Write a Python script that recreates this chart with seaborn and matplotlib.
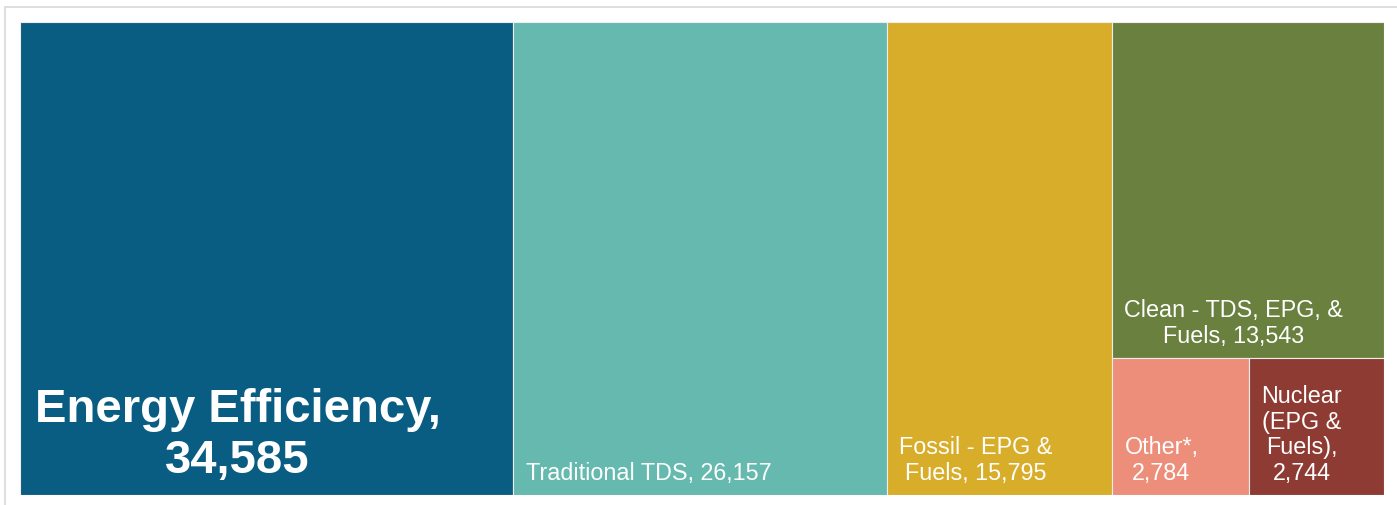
import matplotlib.pyplot as plt
import seaborn as sns
from matplotlib.patches import Rectangle
from matplotlib.lines import Line2D

sns.set_theme(style="white")
plt.rcParams['font.family'] = ['Liberation Sans', 'DejaVu Sans']

# treemap data (jobs by category)
categories = ["Energy Efficiency", "Traditional TDS", "Fossil - EPG &\nFuels",
              "Clean - TDS, EPG, &\nFuels", "Other*,\n", "Nuclear\n(EPG &\nFuels),\n"]
values = [34585, 26157, 15795, 13543, 2784, 2744]
colors = ["#0a5d82", "#65b9ae", "#d8ad2a", "#6a803e", "#ec8e7a", "#8e3b33"]


def label_for(i):
    v = f"{values[i]:,}"
    if i == 0:
        return f"{categories[0]},\n{v}"
    if i in (1, 2, 3):
        return f"{categories[i]}, {v}"
    return f"{categories[i]}{v}"


# slice-and-dice layout: first three are full-height columns,
# last column stacks Clean on top of (Other | Nuclear)
total = sum(values)
rects = []
x = 0
for v in values[:3]:
    rects.append((x, 0.0, v, 1.0))
    x += v
col_w = sum(values[3:])
top_h = values[3] / col_w
rects.append((x, 1 - top_h, col_w, top_h))
bottom_total = values[4] + values[5]
xo = x
for v in values[4:]:
    w = col_w * v / bottom_total
    rects.append((xo, 0.0, w, 1 - top_h))
    xo += w

fig = plt.figure(figsize=(13.97, 5.06), dpi=100)
ax = fig.add_axes([20 / 1397, 10 / 506, 1364 / 1397, 473 / 506])
ax.set_xlim(0, total)
ax.set_ylim(0, 1)
ax.axis("off")

for i, (rx, ry, rw, rh) in enumerate(rects):
    ax.add_patch(Rectangle((rx, ry), rw, rh, facecolor=colors[i],
                           edgecolor="#eeeeee", linewidth=0.8))
    if i == 0:
        ax.annotate(label_for(i), (rx, ry), xytext=(10.5, 16.5), textcoords="offset points",
                    ha="left", va="baseline", multialignment="center",
                    color="white", fontsize=34, fontweight="bold", linespacing=1.2)
    else:
        ax.annotate(label_for(i), (rx, ry), xytext=(9, 11.5), textcoords="offset points",
                    ha="left", va="baseline", multialignment="center",
                    color="white", fontsize=16.8, linespacing=1.15)

# light outer frame (cut off at right and bottom)
fc = "#d9d9d9"
fig.add_artist(Line2D([5 / 1397, 5 / 1397], [0, 1 - 8 / 506], color=fc, lw=1.2,
                      transform=fig.transFigure))
fig.add_artist(Line2D([5 / 1397, 1], [1 - 8 / 506, 1 - 8 / 506], color=fc, lw=1.2,
                      transform=fig.transFigure))

fig.savefig("out.png", dpi=100, facecolor="white")
